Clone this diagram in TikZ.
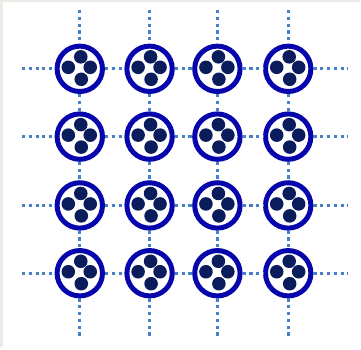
\documentclass[tikz,border=0pt]{standalone}
\begin{document}
\definecolor{ringblue}{RGB}{6,6,172}
\definecolor{coreblue}{RGB}{10,28,92}
\definecolor{linkblue}{RGB}{70,128,200}
\definecolor{framegray}{RGB}{234,236,230}
\tikzset{
  site/.style={circle, draw=ringblue, line width=5pt, fill=white,
               minimum size=45.5pt, inner sep=0pt},
  link/.style={draw=linkblue, line width=3.2pt, dash pattern=on 3.2pt off 3.6pt},
  core/.style={fill=coreblue}
}
\begin{tikzpicture}[x=1pt,y=-1pt]
  % frame and background
  \fill[framegray] (0,0) rectangle (361,348);
  \fill[white] (3.5,2.5) rectangle (362,350);
  \useasboundingbox (0,0) rectangle (361,348);
  % lattice sites
  \foreach \c/\x in {1/80,2/150,3/218,4/289}{
    \foreach \r/\y in {1/69,2/137,3/206,4/274}{
      \node[site] (n\r\c) at (\x,\y) {};
    }
  }
  % free ends of the links
  \foreach \r/\y in {1/69,2/137,3/206,4/274}{
    \coordinate (w\r) at (22,\y);
    \coordinate (e\r) at (349,\y);
  }
  \foreach \c/\x in {1/80,2/150,3/218,4/289}{
    \coordinate (t\c) at (\x,10);
    \coordinate (b\c) at (\x,338);
  }
  % horizontal links
  \foreach \r in {1,2,3,4}{
    \draw[link] (w\r) -- (n\r1) -- (n\r2) -- (n\r3) -- (n\r4) -- (e\r);
  }
  % vertical links
  \foreach \c in {1,2,3,4}{
    \draw[link] (t\c) -- (n1\c) -- (n2\c) -- (n3\c) -- (n4\c) -- (b\c);
  }
  % four cores inside every site
  \foreach \r in {1,2,3,4}{
    \foreach \c in {1,2,3,4}{
      \fill[core] ([shift={(1,-12)}]n\r\c.center) circle (6.8);
      \fill[core] ([shift={(-11.5,-1.5)}]n\r\c.center) circle (6.8);
      \fill[core] ([shift={(10.5,-1.5)}]n\r\c.center) circle (6.8);
      \fill[core] ([shift={(1.5,10.5)}]n\r\c.center) circle (6.8);
    }
  }
\end{tikzpicture}
\end{document}
